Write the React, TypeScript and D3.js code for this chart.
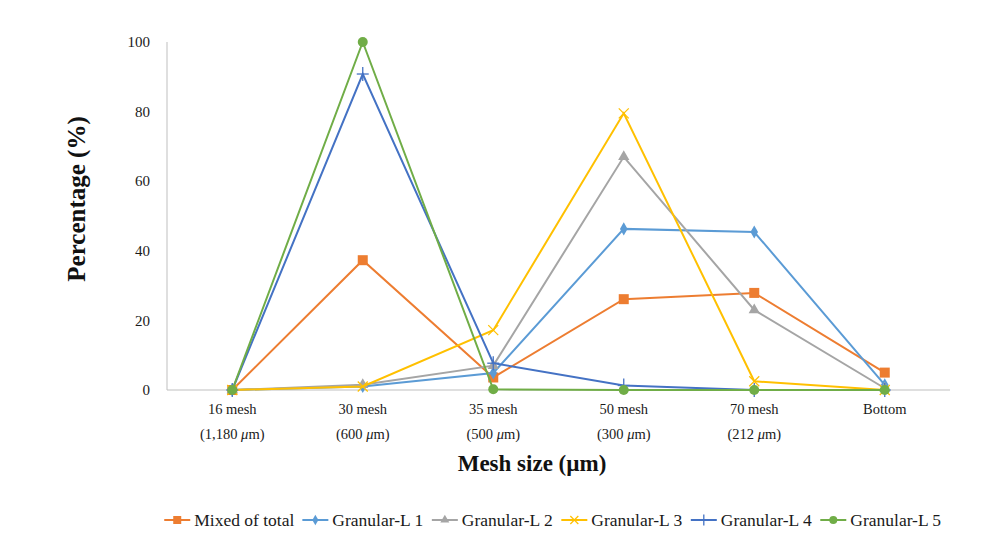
import React from "react";
import * as d3 from "d3";

const categories = ["16 mesh", "30 mesh", "35 mesh", "50 mesh", "70 mesh", "Bottom"];
const categorySizes = ["1,180", "600", "500", "300", "212", ""];
const yTicks = [0, 20, 40, 60, 80, 100];

const seriesNames = ["Mixed of total", "Granular-L 1", "Granular-L 2", "Granular-L 3", "Granular-L 4", "Granular-L 5"];
const mixedOfTotal = [0, 37.3, 3.6, 26.1, 27.9, 5.0];
const granularL1 = [0, 1.0, 4.9, 46.3, 45.4, 1.5];
const granularL2 = [0, 1.5, 7.0, 67.0, 23.0, 0.5];
const granularL3 = [0, 1.0, 17.2, 79.5, 2.5, 0];
const granularL4 = [0, 90.8, 7.7, 1.3, 0, 0];
const granularL5 = [0, 100, 0.2, 0, 0, 0];

const seriesValues = [mixedOfTotal, granularL1, granularL2, granularL3, granularL4, granularL5];
const colors = ["#ED7D31", "#5B9BD5", "#A5A5A5", "#FFC000", "#4472C4", "#70AD47"];
const markerTypes = ["square", "diamond", "triangle", "x", "plus", "circle"];

const W = 997;
const H = 552;
const plot = { left: 167, right: 950, top: 42, bottom: 390 };
const FONT = "'Liberation Serif', 'Times New Roman', serif";

function Marker({ type, x, y, color, s = 1 }: { type: string; x: number; y: number; color: string; s?: number }) {
  let el: React.ReactNode;
  if (type === "square") {
    el = <rect x={-5} y={-5} width={10} height={10} fill={color} />;
  } else if (type === "circle") {
    el = <circle cx={0} cy={0} r={5} fill={color} />;
  } else if (type === "diamond") {
    el = <path d={d3.symbol(d3.symbolDiamond, 50)() || ""} fill={color} />;
  } else if (type === "triangle") {
    el = <path d={d3.symbol(d3.symbolTriangle, 55)() || ""} fill={color} />;
  } else if (type === "x") {
    el = (
      <g stroke={color} strokeWidth={1.3 / s}>
        <line x1={-5} y1={-5} x2={5} y2={5} />
        <line x1={-5} y1={5} x2={5} y2={-5} />
      </g>
    );
  } else {
    el = (
      <g stroke={color} strokeWidth={1.3 / s}>
        <line x1={-6} y1={0} x2={6} y2={0} />
        <line x1={0} y1={-7} x2={0} y2={7} />
      </g>
    );
  }
  return <g transform={`translate(${x},${y}) scale(${s})`}>{el}</g>;
}

function measure(text: string, font: string): number {
  const c = document.createElement("canvas");
  const ctx = c.getContext("2d");
  if (!ctx) return text.length * 8;
  ctx.font = font;
  return ctx.measureText(text).width;
}

const textStyle = { fontFamily: FONT };

export default function App() {
  const x = d3.scaleBand<string>().domain(categories).range([plot.left, plot.right]);
  const y = d3.scaleLinear().domain([0, 100]).range([plot.bottom, plot.top]);
  const cx = (c: string) => (x(c) || 0) + x.bandwidth() / 2;

  const line = d3
    .line<number>()
    .x((_, i) => cx(categories[i]))
    .y((d) => y(d));

  const legendFontSize = 17.5;
  const legendFont = `${legendFontSize}px "Liberation Serif"`;
  const markerLen = 26;
  const gapAfterMarker = 4;
  const gapAfterText = 8;
  const widths = seriesNames.map((n) => markerLen + gapAfterMarker + measure(n, legendFont) + gapAfterText);
  const totalW = d3.sum(widths) - gapAfterText;
  const legendStart = 553 - totalW / 2;
  const legendX = widths.map((_, i) => legendStart + d3.sum(widths.slice(0, i)));
  const legendY = 520;

  return (
    <svg
      width={W}
      height={H}
      style={{ position: "absolute", left: 0, top: 0, background: "#fff", fontFamily: FONT }}
    >
      <rect width={W} height={H} fill="#fff" />
      {/* axes */}
      <line x1={plot.left} x2={plot.left} y1={plot.top} y2={plot.bottom} stroke="#BFBFBF" strokeWidth={1} />
      <line x1={plot.left} x2={plot.right} y1={plot.bottom} y2={plot.bottom} stroke="#BFBFBF" strokeWidth={1} />
      {yTicks.map((t) => (
        <text key={t} x={plot.left - 17} y={y(t)} dy="0.35em" textAnchor="end" fontSize={15} fill="#1a1a1a" style={textStyle}>
          {t}
        </text>
      ))}
      {categories.map((c, i) => (
        <g key={c}>
          <text x={cx(c)} y={plot.bottom + 24} textAnchor="middle" fontSize={14.5} fill="#1a1a1a" style={textStyle}>
            {c}
          </text>
          {categorySizes[i] && (
            <text x={cx(c)} y={plot.bottom + 49} textAnchor="middle" fontSize={14.5} fill="#1a1a1a" style={textStyle}>
              ({categorySizes[i]} <tspan fontStyle="italic">μ</tspan>m)
            </text>
          )}
        </g>
      ))}
      <text
        transform={`translate(85,199) rotate(-90)`}
        textAnchor="middle"
        fontSize={25}
        fontWeight="bold"
        fill="#111"
        style={textStyle}
      >
        Percentage (%)
      </text>
      <text x={532} y={471} textAnchor="middle" fontSize={23} fontWeight="bold" fill="#111" style={textStyle}>
        Mesh size (µm)
      </text>

      {/* series */}
      {seriesValues.map((vals, si) => (
        <g key={seriesNames[si]}>
          <path d={line(vals) || ""} fill="none" stroke={colors[si]} strokeWidth={2} />
          {vals.map((v, i) => (
            <Marker key={i} type={markerTypes[si]} x={cx(categories[i])} y={y(v)} color={colors[si]} />
          ))}
        </g>
      ))}

      {/* legend */}
      {seriesNames.map((n, i) => (
        <g key={n}>
          <line
            x1={legendX[i]}
            x2={legendX[i] + markerLen}
            y1={legendY}
            y2={legendY}
            stroke={colors[i]}
            strokeWidth={2}
          />
          <Marker type={markerTypes[i]} x={legendX[i] + markerLen / 2} y={legendY} color={colors[i]} s={0.8} />
          <text
            x={legendX[i] + markerLen + gapAfterMarker}
            y={legendY}
            dy="0.35em"
            fontSize={legendFontSize}
            fill="#1a1a1a"
            style={textStyle}
          >
            {n}
          </text>
        </g>
      ))}
    </svg>
  );
}
